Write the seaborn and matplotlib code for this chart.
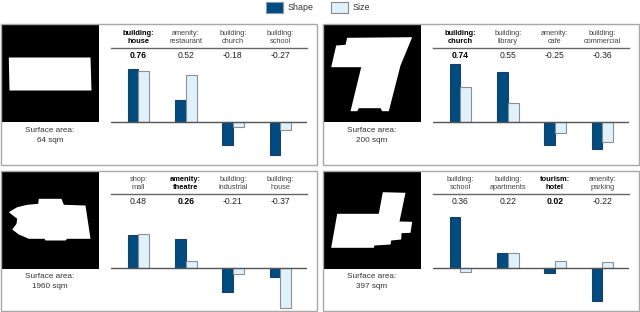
import pandas as pd
import matplotlib
matplotlib.use('Agg')
import matplotlib.pyplot as plt
from matplotlib.patches import Polygon, Rectangle
import seaborn as sns

W, H = 640, 312
NAVY = '#004b80'
PALE = '#dff1fc'
GREY = '#a8a8a8'

# category labels, bold one is the true class
labels_a = ['building:\nhouse', 'amenity:\nrestaurant', 'building:\nchurch', 'building:\nschool']
labels_b = ['building:\nchurch', 'building:\nlibrary', 'amenity:\ncafe', 'building:\ncommercial']
labels_c = ['shop:\nmall', 'amenity:\ntheatre', 'building:\nindustrial', 'building:\nhouse']
labels_d = ['building:\nschool', 'building:\napartments', 'tourism:\nhotel', 'amenity:\nparking']

scores_a = ['0.76', '0.52', '-0.18', '-0.27']
scores_b = ['0.74', '0.55', '-0.25', '-0.36']
scores_c = ['0.48', '0.26', '-0.21', '-0.37']
scores_d = ['0.36', '0.22', '0.02', '-0.22']

bold_a, bold_b, bold_c, bold_d = 0, 0, 1, 2

# bar heights
shape_a = [53, 22, -23, -33]
size_a = [51, 47, -5, -8]
shape_b = [58, 50, -23, -27]
size_b = [35, 19, -11, -20]
shape_c = [33, 29, -24, -9]
size_c = [34, 7, -6, -40]
shape_d = [51, 15, -5, -33]
size_d = [-4, 15, 7, 6]

area_a = '64 sqm'
area_b = '200 sqm'
area_c = '1960 sqm'
area_d = '397 sqm'

# footprints, in pixels inside the black square
foot_a = [(7.3, 32), (89, 32), (90, 65), (8, 65)]
foot_b = [(23.7, 12.3), (88.7, 11.7), (77, 40), (65.3, 85.7), (58.7, 85.7), (57, 82.7), (35.3, 82.7),
          (33.7, 85.7), (27, 85.7), (37.7, 41.7), (7.7, 41.7), (12.7, 20), (22, 19.3)]
foot_c = [(37.3, 27.3), (60, 27.3), (62.3, 33.3), (84, 34), (89, 67.3), (65.7, 67.3), (64, 69), (44, 69),
          (43, 67.3), (27.3, 67.3), (17.3, 63), (10.7, 58), (15, 52.3), (15.7, 47.3), (7.3, 40.7),
          (15.7, 35.7), (25.7, 33.3), (36.7, 32.3)]
foot_d = [(59.3, 20.7), (82, 21.3), (76, 50), (88.7, 50.3), (87, 61.3), (78, 61.7), (77.7, 68), (67.7, 69),
          (67, 73), (51, 74), (50.3, 76.3), (7.7, 76.3), (13.7, 42.3), (55.3, 42.3)]

sns.set_theme(style='white')
plt.rcParams['font.family'] = ['Liberation Sans', 'DejaVu Sans']

fig = plt.figure(figsize=(W / 100, H / 100), dpi=100)


def px_axes(x0, y0, x1, y1):
    return fig.add_axes([x0 / W, 1 - y1 / H, (x1 - x0) / W, (y1 - y0) / H])


def px_text(x, y, s, **kw):
    fig.text(x / W, 1 - y / H, s, ha='center', va='center', **kw)


def panel(ox, oy, labels, scores, bold, shape, size, area, foot):
    # frame
    fig.add_artist(Rectangle((ox / W, 1 - (oy + 140.5) / H), 316 / W, 140.5 / H, transform=fig.transFigure,
                             fill=False, ec=GREY, lw=1))

    # black square with the footprint
    ax_img = px_axes(ox + 0.5, oy + 0.5, ox + 98, oy + 98)
    ax_img.set_facecolor('black')
    ax_img.set_xlim(-0.5, 97)
    ax_img.set_ylim(97, -0.5)
    ax_img.set_xticks([])
    ax_img.set_yticks([])
    for s in ax_img.spines.values():
        s.set_visible(False)
    ax_img.add_patch(Polygon(foot, closed=True, fc='white', ec='none'))

    px_text(ox + 49.5, oy + 106, 'Surface area:', fontsize=5.9, color='#333333')
    px_text(ox + 49.5, oy + 116.5, area, fontsize=5.9, color='#333333')

    # bars
    ax = px_axes(ox + 110, oy + 23.5, ox + 306, oy + 140)
    df = pd.DataFrame({'label': labels * 2,
                       'value': shape + size,
                       'kind': ['Shape'] * 4 + ['Size'] * 4})
    sns.barplot(data=df, x='label', y='value', hue='kind', ax=ax, width=0.46,
                palette={'Shape': NAVY, 'Size': PALE}, legend=False, saturation=1)
    for i, bar in enumerate(ax.patches[:8]):
        bar.set_edgecolor('#1d3f60' if i < 4 else '#8f8f8f')
        bar.set_linewidth(0.8)
    ax.set_xlim(-0.59, 3.55)
    ax.set_ylim(-42.5, 74)
    ax.patch.set_alpha(0)
    ax.set_xlabel('')
    ax.set_ylabel('')
    ax.set_xticks([])
    ax.set_yticks([])
    for name, s in ax.spines.items():
        s.set_visible(name == 'top')
    ax.spines['top'].set_color('#666666')
    ax.spines['top'].set_linewidth(1)
    ax.axhline(0, color='#555555', lw=1, zorder=3)

    # headers and scores
    for i in range(4):
        x = ox + 138 + 47.2 * i
        if i == bold:
            px_text(x, oy + 13, labels[i], fontsize=5.4, color='black', fontweight='bold', linespacing=1.05)
            px_text(x, oy + 31, scores[i], fontsize=6.2, color='black', fontweight='bold')
        else:
            px_text(x, oy + 13, labels[i], fontsize=5.3, color='#444444', linespacing=1.05)
            px_text(x, oy + 31, scores[i], fontsize=6.2, color='#222222')


panel(0.5, 24.5, labels_a, scores_a, bold_a, shape_a, size_a, area_a, foot_a)
panel(322.5, 24.5, labels_b, scores_b, bold_b, shape_b, size_b, area_b, foot_b)
panel(0.5, 170.5, labels_c, scores_c, bold_c, shape_c, size_c, area_c, foot_c)
panel(322.5, 170.5, labels_d, scores_d, bold_d, shape_d, size_d, area_d, foot_d)

# legend at the top
fig.add_artist(Rectangle((265.5 / W, 1 - 12.5 / H), 17 / W, 11 / H, transform=fig.transFigure,
                         fc=NAVY, ec='#8a9aa8', lw=0.8))
fig.add_artist(Rectangle((331 / W, 1 - 12.5 / H), 17 / W, 11 / H, transform=fig.transFigure,
                         fc=PALE, ec='#8a8a8a', lw=0.8))
px_text(300.5, 7, 'Shape', fontsize=6.4, color='#333333')
px_text(361, 7, 'Size', fontsize=6.4, color='#333333')

fig.savefig('out.png', dpi=100)
